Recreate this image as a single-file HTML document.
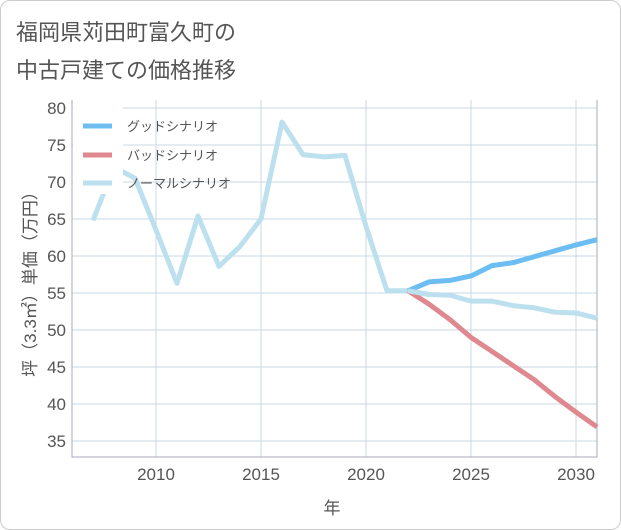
<!DOCTYPE html>
<html><head><meta charset="utf-8"><style>
body{margin:0;background:#fff;font-family:"Liberation Sans","Noto Sans CJK JP",sans-serif}
.card{position:absolute;left:0;top:0;width:619px;height:528px;border:1px solid #ccc;border-radius:10px;background:#fff}
.title{position:absolute;left:16px;top:14px;font-size:22px;line-height:38px;color:#555}
</style></head><body>
<div class="card"></div>
<div class="title">福岡県苅田町富久町の<br>中古戸建ての価格推移</div>
<svg id="c" width="621" height="530" style="position:absolute;left:0;top:0"></svg>
<script>
const years=[2007,2008,2009,2010,2011,2012,2013,2014,2015,2016,2017,2018,2019,2020,2021,2022,2023,2024,2025,2026,2027,2028,2029,2030,2031];
const normal=[64.8,72,70.5,63.5,56.3,65.4,58.6,61.3,65,78.1,73.7,73.4,73.6,64,55.3,55.3,54.8,54.7,53.9,53.9,53.3,53,52.4,52.3,51.6];
const goodYears=[2022,2023,2024,2025,2026,2027,2028,2029,2030,2031];
const good=[55.3,56.5,56.7,57.3,58.7,59.1,59.9,60.7,61.5,62.2];
const bad=[55.3,53.5,51.4,49,47.1,45.2,43.3,41,38.9,36.9];
const yTicks=[35,40,45,50,55,60,65,70,75,80];
const xTicks=[2010,2015,2020,2025,2030];
const L=72,R=597,T=100,B=457;
const X=y=>156+(y-2010)*21;
const Y=v=>108+(80-v)*333/45;
const s=document.getElementById('c');const NS='http://www.w3.org/2000/svg';
function mk(t,a,p){const e=document.createElementNS(NS,t);for(const k in a)e.setAttribute(k,a[k]);(p||s).appendChild(e);return e;}
for(const v of yTicks){const g=mk('line',{x1:L,x2:R,y1:Y(v),y2:Y(v),stroke:'#c8d8e4','stroke-width':1});

const t=mk('text',{x:66,y:Y(v)+6,'text-anchor':'end','font-size':17,fill:'#555'});t.textContent=v;
}
for(const v of xTicks){const g=mk('line',{x1:X(v),x2:X(v),y1:T,y2:B,stroke:'#c8d8e4','stroke-width':1});

const t=mk('text',{x:X(v),y:480,'text-anchor':'middle','font-size':17,fill:'#555'});t.textContent=v;
}
const ax=mk('path',{d:`M${L},${T}V${B}H${R}V${T}`,fill:'none',stroke:'#aab','stroke-width':1});

function line(xs,vs,col,name){const p=mk('polyline',{points:xs.map((y,i)=>X(y)+','+Y(vs[i])).join(' '),fill:'none',stroke:col,'stroke-width':5,'stroke-linejoin':'round'});
}
line(years,normal,'#bde0ee','normal-series');
line(goodYears,bad,'#e0888f','bad-series');
line(goodYears,good,'#6bbdf2','good-series');
line(goodYears.slice(0,2),normal.slice(15,17),'#bde0ee','normal-overlap');
const lb=mk('rect',{x:73,y:106,width:50,height:88,fill:'#fff'});

const leg=[['グッドシナリオ','#6bbdf2',126],['バッドシナリオ','#e0888f',155],['ノーマルシナリオ','#bde0ee',183]];
for(const [n,c,y] of leg){const l=mk('line',{x1:83,x2:112,y1:y,y2:y,stroke:c,'stroke-width':5});

const t=mk('text',{x:127,y:y+5,'font-size':13,fill:'#555'});t.textContent=n;
}
const yl=mk('text',{x:0,y:0,transform:'translate(36,280) rotate(-90)','text-anchor':'middle','font-size':17,fill:'#555'});yl.textContent='坪（3.3㎡）単価（万円）';

const xl=mk('text',{x:332,y:514,'text-anchor':'middle','font-size':17,fill:'#555'});xl.textContent='年';

</script>
</body></html>
